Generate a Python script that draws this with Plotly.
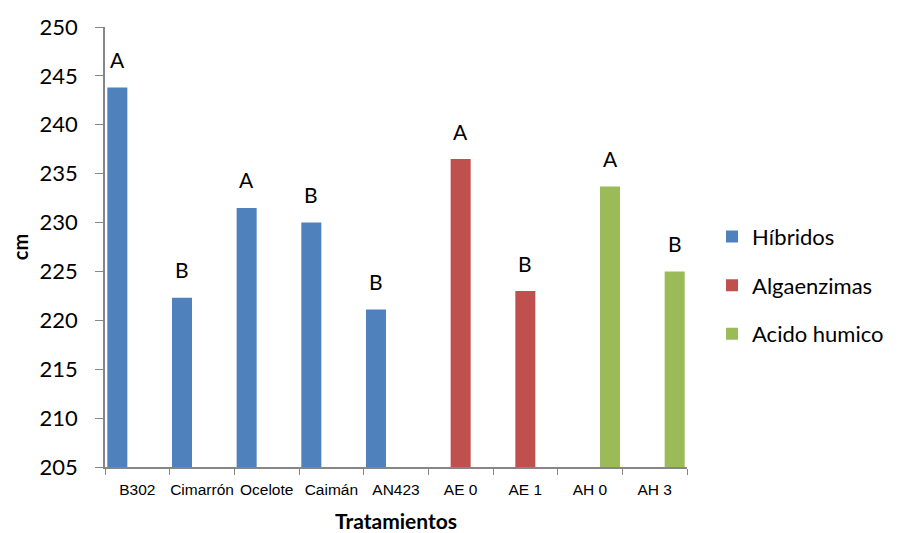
import plotly.graph_objects as go

categories = ["B302", "Cimarrón", "Ocelote", "Caimán", "AN423", "AE 0", "AE 1", "AH 0", "AH 3"]
hibridos = [243.8, 222.3, 231.5, 230.0, 221.1, None, None, None, None]
algaenzimas = [None, None, None, None, None, 236.5, 223.0, None, None]
acido_humico = [None, None, None, None, None, None, None, 233.7, 225.0]
letters = ["A", "B", "A", "B", "B", "A", "B", "A", "B"]

series = [
    ("Híbridos", hibridos, "#4F81BD", -20),
    ("Algaenzimas", algaenzimas, "#C0504D", 0),
    ("Acido humico", acido_humico, "#9BBB59", 20),
]

fig = go.Figure()
annotations = []
for i, (name, vals, color, shift) in enumerate(series):
    fig.add_trace(go.Bar(
        x=categories, y=vals, name=name, legendgroup=name,
        marker=dict(color=color, line=dict(width=0)),
    ))
    for c, v, l in zip(categories, vals, letters):
        if v is not None:
            annotations.append(dict(
                x=c, y=v, xref="x", yref="y", text=l, showarrow=False,
                xshift=shift, yshift=28, yanchor="middle",
                font=dict(family="Lato, 'Noto Sans', sans-serif", size=21, color="#000000"),
            ))

# page body has an 8px margin, so the figure is drawn 8px in from the window edge
fig.update_layout(
    width=893, height=525,
    margin=dict(l=97, r=214.3, t=18.7, b=66.3, autoexpand=False),
    paper_bgcolor="white", plot_bgcolor="white",
    barmode="group", bargap=0.0716, bargroupgap=0,
    annotations=annotations,
    showlegend=True,
    legend=dict(
        x=1.043, xanchor="left", y=0.413, yanchor="middle",
        font=dict(family="Lato, 'Noto Sans', sans-serif", size=22, color="#000000"),
        tracegroupgap=17, bgcolor="rgba(0,0,0,0)", borderwidth=0,
    ),
    xaxis=dict(
        type="category", tickson="boundaries", ticks="outside", ticklen=6,
        tickcolor="#868686", showline=True, linecolor="#868686", linewidth=1.5,
        showgrid=False, tickangle=0, automargin=False, ticklabelstandoff=8,
        tickfont=dict(family="'Liberation Sans Narrow', 'Arial Narrow', 'Liberation Sans', sans-serif", size=15.5, color="#000000"),
        title=dict(text="<b>Tratamientos</b>", standoff=18,
                   font=dict(family="Lato, 'Noto Sans', sans-serif", size=21, color="#000000")),
    ),
    yaxis=dict(
        range=[205, 250], dtick=5, tick0=205, ticks="outside", ticklen=8,
        tickcolor="#868686", showline=True, linecolor="#868686", linewidth=1.5,
        showgrid=False, zeroline=False, ticklabelstandoff=13, automargin=False,
        tickfont=dict(family="Lato, 'Noto Sans', sans-serif", size=22, color="#000000"),
        title=dict(text="<b>cm</b>", standoff=17,
                   font=dict(family="Lato, 'Noto Sans', sans-serif", size=20, color="#000000")),
    ),
)

fig.write_html("out.html")
